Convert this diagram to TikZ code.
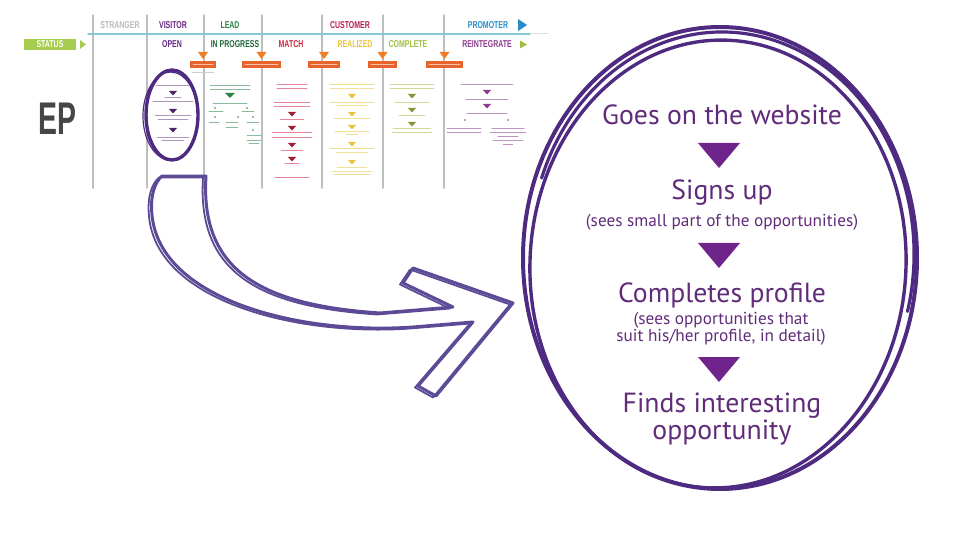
\documentclass[tikz,border=0pt]{standalone}
\usepackage{fontspec}
\setmainfont{PT Sans}
\newfontfamily\condfont[FakeStretch=0.7]{Liberation Sans}
\newfontfamily\epfont[FakeStretch=0.62]{Liberation Sans}
\usetikzlibrary{arrows.meta,positioning,calc}

\definecolor{ringviolet}{RGB}{78,42,128}
\definecolor{arrowviolet}{RGB}{92,74,150}
\definecolor{textviolet}{RGB}{96,44,122}
\definecolor{triviolet}{RGB}{110,36,138}
\definecolor{rulegray}{RGB}{190,190,190}
\definecolor{topblue}{RGB}{130,200,215}
\definecolor{epgray}{RGB}{70,70,70}
\definecolor{visitcol}{RGB}{100,40,130}
\definecolor{leadcol}{RGB}{40,130,70}
\definecolor{custcol}{RGB}{185,30,80}
\definecolor{promcol}{RGB}{40,140,200}
\definecolor{matchcol}{RGB}{205,35,65}
\definecolor{realcol}{RGB}{232,196,60}
\definecolor{compcol}{RGB}{160,190,70}
\definecolor{reincol}{RGB}{140,60,140}
\definecolor{statusgreen}{RGB}{166,205,80}
\definecolor{markorange}{RGB}{240,125,35}
\definecolor{boxorange}{RGB}{232,100,45}

\begin{document}
\begin{tikzpicture}[x=1bp, y=-1bp, line cap=round, line join=round,
    hdr/.style={font=\condfont\fontsize{10}{10}\selectfont\bfseries, inner sep=0},
    scrib/.style={line width=0.8, opacity=0.55},
    bigtxt/.style={text=textviolet, font=\fontsize{27.8}{22}\selectfont, anchor=base, align=center},
    notetxt/.style={text=textviolet, font=\fontsize{17.3}{13}\selectfont, anchor=base, align=center}]
    \useasboundingbox (0,0) rectangle (960,540);

    % Column rules of the thumbnail
    \foreach \cx in {93,147,204,262,322,383,444}
        \draw[rulegray, line width=1.8] (\cx,15) -- (\cx,188);
    \draw[topblue, line width=1.5] (88,34) -- (530,34);
    \draw[gray!25, line width=1] (530,34) -- (548,34);

    % Stage headers
    \node[hdr, text=gray!55] (stranger) at (120,25) {STRANGER};
    \node[hdr, text=visitcol] (visitor) at (173,25) {VISITOR};
    \node[hdr, text=leadcol] (lead) at (230,25) {LEAD};
    \node[hdr, text=custcol] (customer) at (350,25) {CUSTOMER};
    \node[hdr, text=promcol] (promoter) at (488,25) {PROMOTER};
    \fill[promcol] (518,19) -- (527,25) -- (518,31) -- cycle;

    % Status row
    \node[hdr, fill=statusgreen, text=white, minimum width=52, minimum height=11] (status) at (50,44.5) {STATUS};
    \fill[statusgreen] (80,40) -- (86,44.5) -- (80,49) -- cycle;
    \node[hdr, text=visitcol] (open) at (172,44.5) {OPEN};
    \node[hdr, text=leadcol!80!black] (inprogress) at (235,44.5) {IN PROGRESS};
    \node[hdr, text=matchcol] (match) at (291,44.5) {MATCH};
    \node[hdr, text=realcol] (realized) at (355,44.5) {REALIZED};
    \node[hdr, text=compcol] (complete) at (408,44.5) {COMPLETE};
    \node[hdr, text=reincol] (reintegrate) at (487,44.5) {REINTEGRATE};
    \fill[compcol] (520,40.5) -- (527,44.5) -- (520,48.5) -- cycle;

    % Orange markers
    \foreach \cx/\bw in {203/26,261.5/39,324/32,382.5/29,444.5/37} {
        \fill[markorange] (\cx-5,52) -- (\cx+5,52) -- (\cx,59) -- cycle;
        \fill[boxorange] (\cx-\bw/2,61) rectangle (\cx+\bw/2,68);
        \draw[white!60!boxorange, line width=0.6] (\cx-\bw/2+3,64.5) -- (\cx+\bw/2-3,64.5);
    }
    \draw[gray!40, line width=0.8] (192,72) -- (214,72);

    % Visitor column
    \foreach \y/\w in {85/34,97/16,101/40,115/36,119/30,137/32,140/22}
        \draw[scrib, visitcol!70!gray] (173-\w/2,\y) -- (173+\w/2,\y);
    \foreach \y in {91,109,128}
        \fill[visitcol!80!black] (169,\y) -- (177,\y) -- (173,\y+4.5) -- cycle;

    % Lead column
    \foreach \y/\w in {85/40,89/40,103/34}
        \draw[scrib, leadcol] (230-\w/2,\y) -- (230+\w/2,\y);
    \fill[leadcol] (225,93) -- (235,93) -- (230,98) -- cycle;
    \foreach \x/\y/\w in {216/111/14,248/111/12,214/122/10,232/122/12,253/122/12,232/127/12,254/135/14,254/140/14,254/143/10}
        \draw[scrib, leadcol] (\x-\w/2,\y) -- (\x+\w/2,\y);
    \foreach \x/\y in {215/108,247/108,215/117,238/117,253/117,253/130}
        \fill[leadcol] (\x,\y) circle (0.9);

    % Match column
    \foreach \y/\w in {84/30,88/30,102/36,106/36,119/24,132/40,137/40,150/22,163/14,177/34}
        \draw[scrib, matchcol] (292-\w/2,\y) -- (292+\w/2,\y);
    \foreach \y in {112,126,143,157}
        \fill[matchcol!80!black] (288,\y) -- (296,\y) -- (292,\y+4.5) -- cycle;

    % Realized column
    \foreach \y/\w in {84/44,88/44,102/44,105/30,118/36,131/34,134/12,148/44,152/32,167/30,171/40,174/36}
        \draw[scrib, realcol] (352-\w/2,\y) -- (352+\w/2,\y);
    \foreach \y in {94,112,125,142,160}
        \fill[realcol] (348,\y) -- (356,\y) -- (352,\y+4.5) -- cycle;

    % Complete column
    \foreach \y/\w in {84/44,88/44,102/34,115/26,128/38,132/40}
        \draw[scrib, compcol] (412-\w/2,\y) -- (412+\w/2,\y);
    \foreach \y in {94,108,122}
        \fill[compcol!80!black] (408,\y) -- (416,\y) -- (412,\y+4.5) -- cycle;

    % Reintegrate column
    \foreach \x/\y/\w in {487/84/52,487/99/42,487/113/40,464/128/34,464/132/34,508/128/32,508/132/36,508/136/20,508/140/30,508/144/10}
        \draw[scrib, reincol] (\x-\w/2,\y) -- (\x+\w/2,\y);
    \foreach \y in {90,104}
        \fill[reincol] (483,\y) -- (491,\y) -- (487,\y+4.5) -- cycle;
    \fill[reincol] (465,120) circle (0.9);
    \fill[reincol] (508,120) circle (0.9);

    % EP label
    \node[font=\epfont\bfseries\fontsize{46}{46}\selectfont, text=epgray, inner sep=0] (ep) at (57,118.5) {EP};

    % Small loop round the visitor column
    \draw[ringviolet, line width=3.4] (172,115) ellipse [x radius=26, y radius=45];
    \draw[ringviolet, line width=1.2] (170.5,116) ellipse [x radius=27.5, y radius=44];

    % Hand-drawn arrow
    \foreach \dx/\dy/\lw in {0/0/3,-3/1.5/1.8} {
        \draw[arrowviolet, line width=\lw, shift={(\dx,\dy)}]
            (162,176) -- (206,176)
            .. controls (200,270) and (260,305) .. (380,313)
            -- (453,307) -- (403,283) -- (413,268) -- (513,303)
            -- (436,396) -- (418,386) -- (473,322) -- (413,327)
            .. controls (300,335) and (160,300) .. (152,215)
            .. controls (150,195) and (155,182) .. (162,176);
    }

    % Big loop
    \draw[ringviolet, line width=4] (720,258) ellipse [x radius=197, y radius=231];
    \draw[ringviolet, line width=3.4, rotate around={-3:(718,264)}] (718,264) ellipse [x radius=188, y radius=224];
    \draw[ringviolet, line width=3.2] (541.6,178.1) arc [start angle=200, end angle=375, x radius=192, y radius=222];

    % Visitor steps
    \node[bigtxt] (goes) at (722,125) {Goes on the website};
    \node[bigtxt] (signs) at (722,200) {Signs up};
    \node[notetxt] (signsnote) at (722,227) {(sees small part of the opportunities)};
    \node[bigtxt] (completes) at (722,303) {Completes profile};
    \node[notetxt] (completesnote) at (721,342) {(sees opportunities that\\suit his/her profile, in detail)};
    \node[bigtxt] (finds) at (722,439) {Finds interesting\\opportunity};
    \foreach \ty in {143,243,357}
        \fill[triviolet] (698,\ty) -- (740,\ty) -- (719,\ty+25) -- cycle;
\end{tikzpicture}
\end{document}
